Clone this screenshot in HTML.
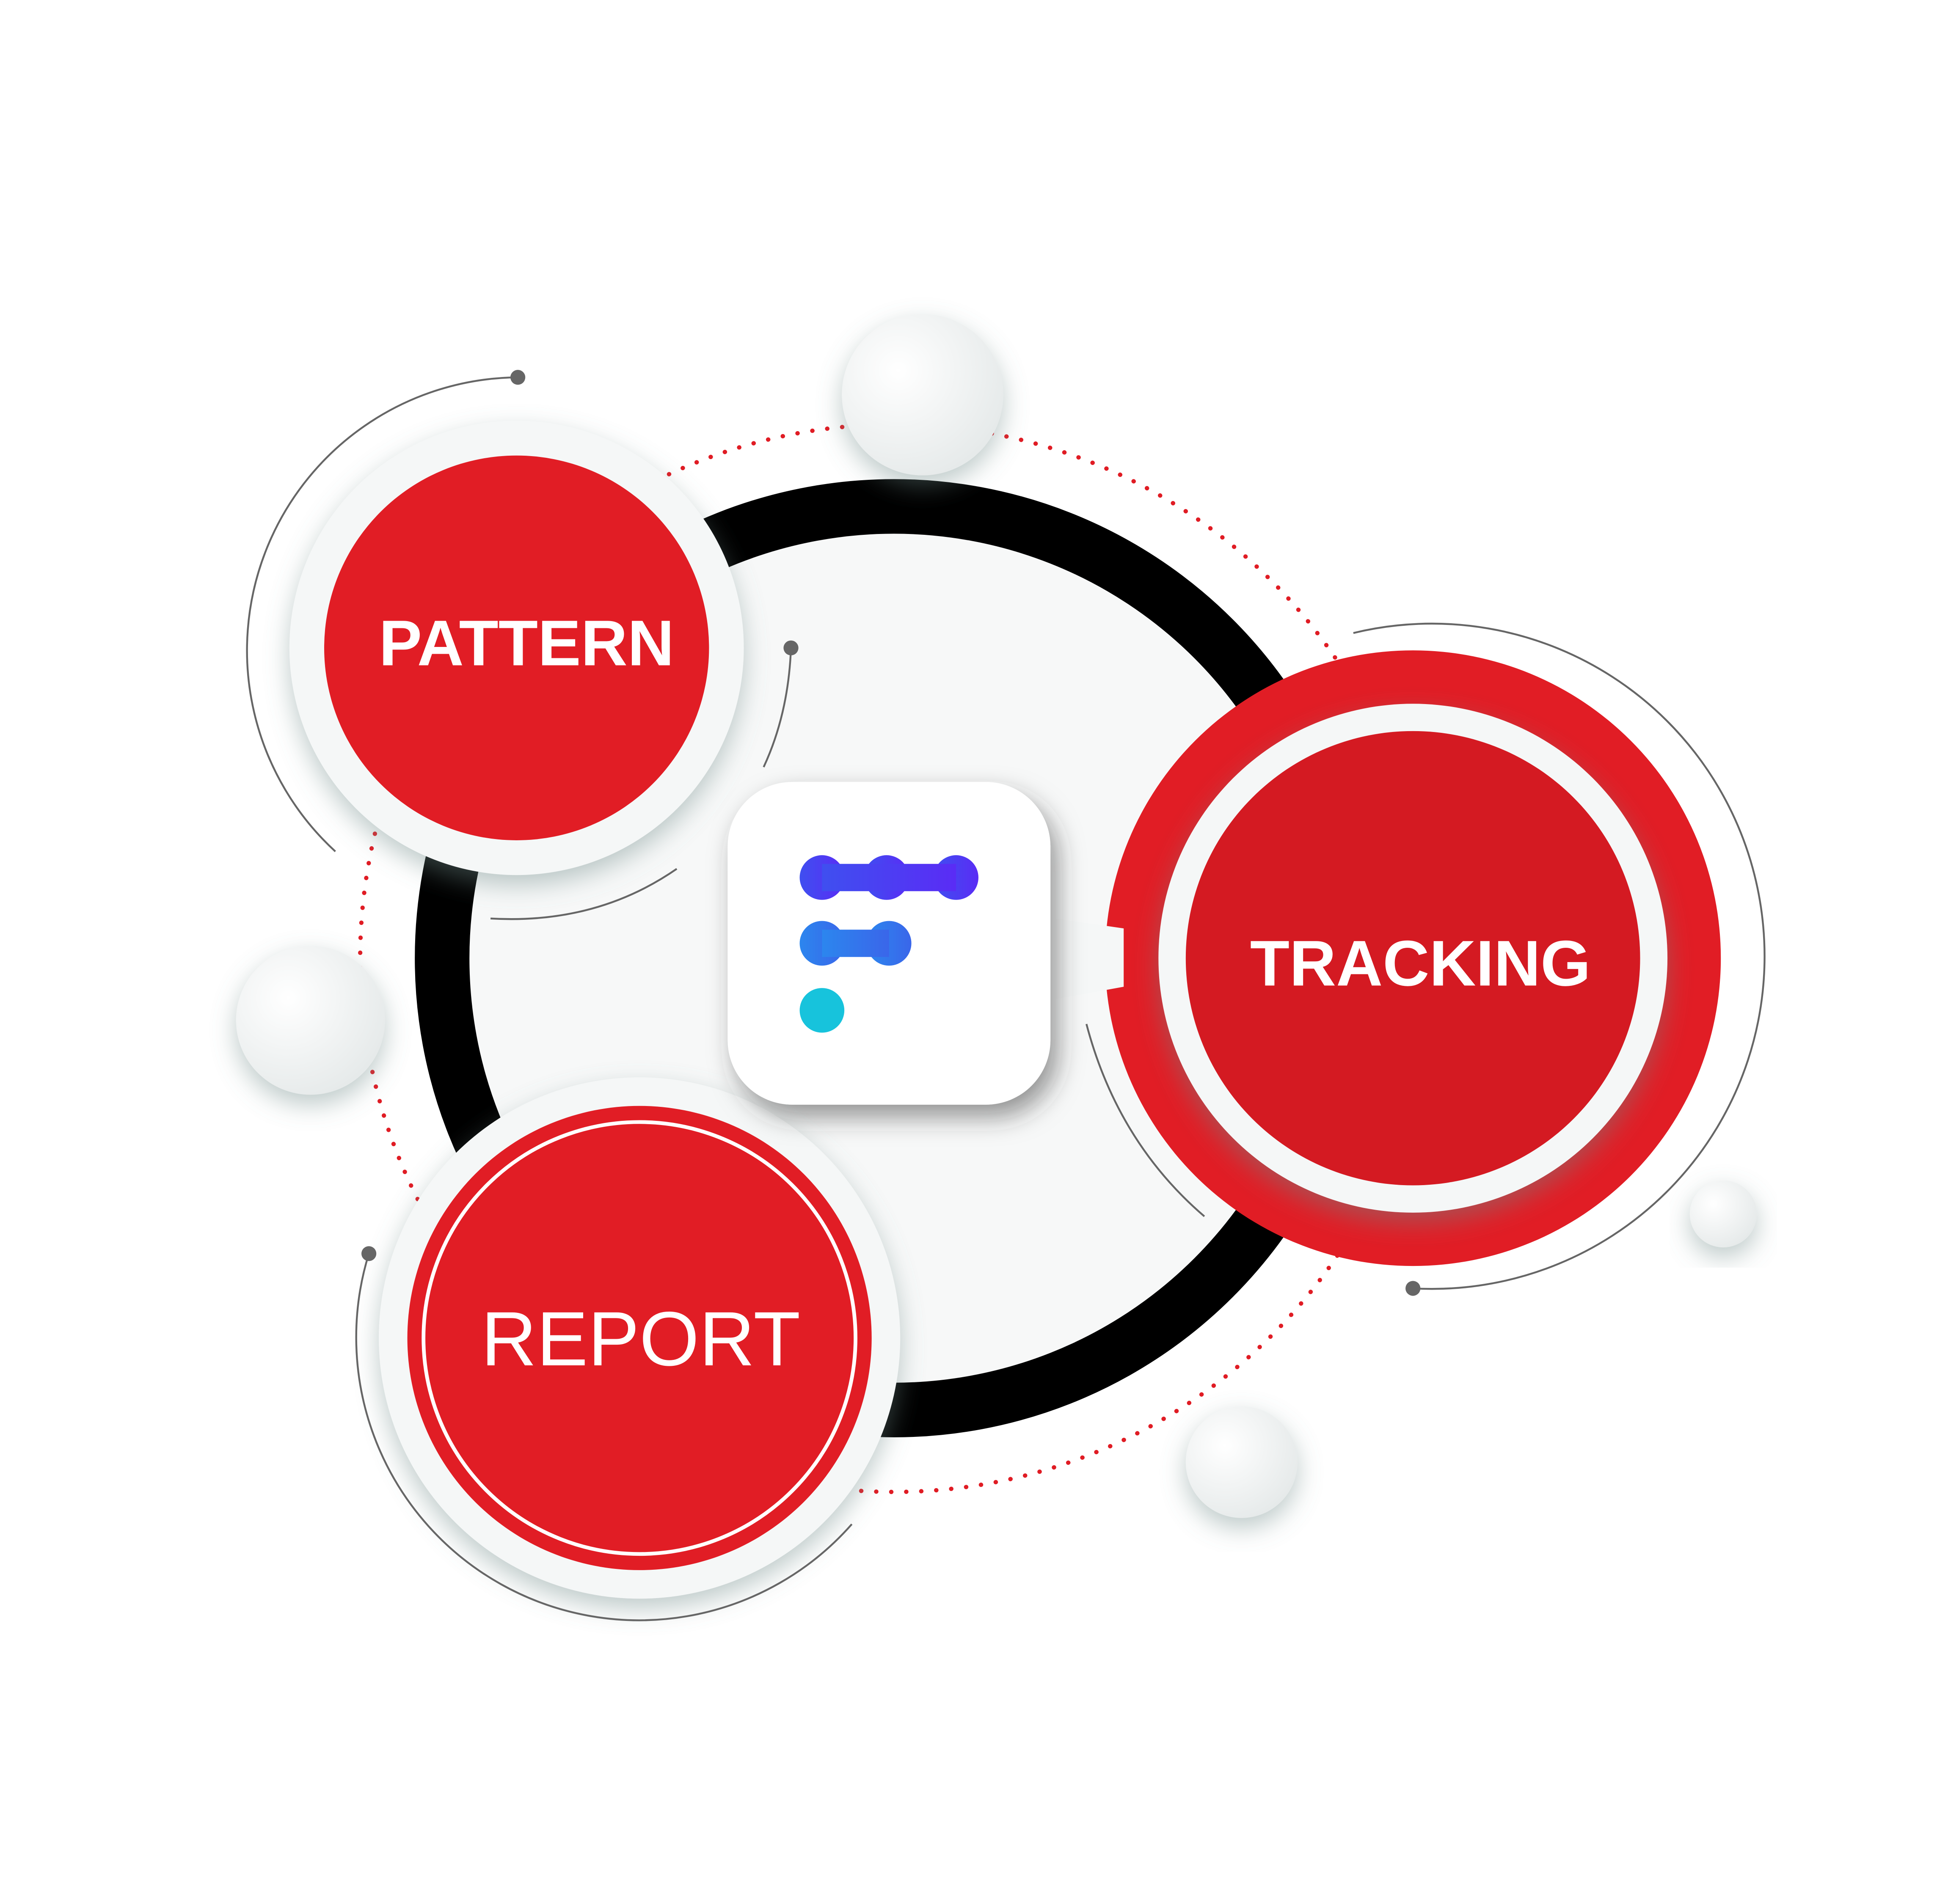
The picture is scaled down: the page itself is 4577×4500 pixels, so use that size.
<!DOCTYPE html>
<html><head><meta charset="utf-8"><style>html,body{margin:0;padding:0;background:#fff}svg{display:block}</style></head>
<body>
<svg width="4577" height="4500" viewBox="0 0 1560 1534" xmlns="http://www.w3.org/2000/svg">
<defs>
<filter id="sh" x="-30%" y="-30%" width="160%" height="160%"><feDropShadow dx="0" dy="8" stdDeviation="10" flood-color="#6f8a88" flood-opacity="0.45"/></filter>
<filter id="sh2" x="-30%" y="-30%" width="160%" height="160%"><feDropShadow dx="6" dy="10" stdDeviation="10" flood-color="#333" flood-opacity="0.5"/></filter>
<linearGradient id="g1" x1="0" x2="1"><stop offset="0" stop-color="#3f4ff0"/><stop offset="1" stop-color="#5a2cf5"/></linearGradient>
<linearGradient id="g2" x1="0" x2="1"><stop offset="0" stop-color="#2c86ee"/><stop offset="1" stop-color="#3a66ea"/></linearGradient>
<radialGradient id="bub" cx="0.35" cy="0.35" r="0.7"><stop offset="0" stop-color="#fff"/><stop offset="1" stop-color="#e6eaea"/></radialGradient>
</defs>
<rect width="1560" height="1534" fill="#fff"/>
<circle cx="720" cy="772" r="430" fill="none" stroke="#e01c24" stroke-width="3.5" stroke-dasharray="0.1 12" stroke-linecap="round"/>
<circle cx="720" cy="772" r="364" fill="#f7f8f8" stroke="#000" stroke-width="44"/>
<circle cx="743" cy="318" r="65" fill="url(#bub)" filter="url(#sh)"/>
<circle cx="250" cy="822" r="60" fill="url(#bub)" filter="url(#sh)"/>
<circle cx="1000" cy="1178" r="45" fill="url(#bub)" filter="url(#sh)"/>
<circle cx="1388" cy="978" r="27" fill="url(#bub)" filter="url(#sh)"/>
<!-- pattern -->
<circle cx="416" cy="522" r="183" fill="#f5f7f7" filter="url(#sh)"/>
<circle cx="416" cy="522" r="155" fill="#e11d25"/>
<text x="424" y="536" text-anchor="middle" font-family="Liberation Sans, sans-serif" font-weight="bold" font-size="52" fill="#fff">PATTERN</text>
<!-- tracking -->
<circle cx="1138" cy="772" r="248" fill="#e11d25"/>
<path d="M850 740 L905 748 L905 795 L850 805 Z" fill="#f5f7f7"/>
<circle cx="1138" cy="772" r="205" fill="#f5f7f7" filter="url(#sh)"/>
<circle cx="1138" cy="772" r="183" fill="#d41a22"/>
<text x="1144" y="794" text-anchor="middle" font-family="Liberation Sans, sans-serif" font-weight="bold" font-size="52" fill="#fff">TRACKING</text>
<!-- report -->
<circle cx="515" cy="1078" r="210" fill="#f5f7f7" filter="url(#sh)"/>
<circle cx="515" cy="1078" r="187" fill="#e11d25"/>
<circle cx="515" cy="1078" r="174" fill="none" stroke="#fff" stroke-width="3"/>
<text x="516" y="1100" text-anchor="middle" font-family="Liberation Sans, sans-serif" font-size="62" fill="#fff">REPORT</text>
<!-- thin arcs -->
<g fill="none" stroke="#666" stroke-width="1.5">
<path d="M417 304 A220 220 0 0 0 270 686"/>
<path d="M1090 510 A268 268 0 1 1 1138 1038"/>
<path d="M297 1010 A228 228 0 0 0 686 1228"/>
<path d="M637 522 Q635 575 615 618"/>
<path d="M395 740 Q480 745 545 700"/>
<path d="M875 825 Q900 920 970 980"/>
</g>
<g fill="#666"><circle cx="417" cy="304" r="6"/><circle cx="637" cy="522" r="6"/><circle cx="1138" cy="1038" r="6"/><circle cx="297" cy="1010" r="6"/></g>
<!-- center box -->
<rect x="586" y="630" width="260" height="260" rx="52" fill="#fff" filter="url(#sh2)"/>
<g fill="url(#g1)"><circle cx="662" cy="707" r="18"/><circle cx="714" cy="707" r="18"/><circle cx="770" cy="707" r="18"/><rect x="662" y="696" width="108" height="22"/></g>
<g fill="url(#g2)"><circle cx="662" cy="760" r="18"/><circle cx="716" cy="760" r="18"/><rect x="662" y="749" width="54" height="22"/></g>
<circle cx="662" cy="814" r="18" fill="#17c3dc"/>
</svg>
</body></html>
